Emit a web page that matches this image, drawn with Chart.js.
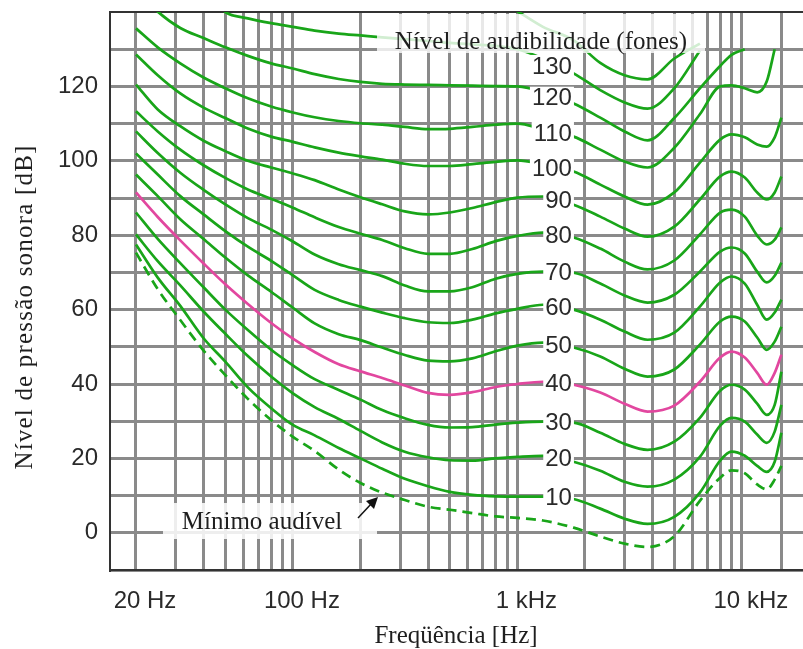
<!DOCTYPE html>
<html>
<head>
<meta charset="utf-8">
<script src="https://cdn.jsdelivr.net/npm/chart.js@4.4.1/dist/chart.umd.min.js"></script>
<style>
  html, body { margin: 0; padding: 0; background: #fff; }
  #wrap { width: 803px; height: 649px; }
</style>
</head>
<body>
<div id="wrap"><canvas id="chart" width="803" height="649"></canvas></div>
<script>
// frequências (Hz) usadas por todas as curvas
const freqs = [20, 25, 31.5, 40, 50, 63, 80, 100, 125, 160, 200, 250, 315, 400, 500, 630, 800, 1000, 1300,
               1780, 2340, 3000, 3800, 5000, 6500, 8000, 9000, 10300, 11700, 12900, 14000, 15000];

// linhas verticais da grade e rótulos do eixo x
const gridFreqs = [20, 30, 40, 50, 60, 70, 80, 90, 100, 200, 300, 400, 500, 600, 700, 800, 900,
                   1000, 2000, 3000, 4000, 5000, 6000, 7000, 8000, 9000, 10000, 15000];
const xTickLabels = { 20: '20 Hz', 100: '100 Hz', 1000: '1 kHz', 10000: '10 kHz' };
const yTickLabels = [0, 20, 40, 60, 80, 100, 120];

// níveis de audibilidade (fones)
const phonLevels = [10, 20, 30, 40, 50, 60, 70, 80, 90, 100, 110, 120, 130];

// nível de pressão sonora (dB)
const limiar  = [75.3, 65.5, 57.2, 49.0, 42.4, 36.0, 30.3, 25.8, 22.0, 17.0, 13.4, 10.8, 8.8, 7.0, 6.2, 5.3, 4.4, 4.0, 3.3,
                 1.4, -1.0, -2.9, -3.8, -0.9, 8.6, 14.8, 16.8, 16.0, 13.0, 11.7, 14.3, 18.0];
const fone10  = [77.5, 68.6, 61.0, 52.3, 46.0, 39.1, 33.5, 29.0, 26.2, 22.8, 20.0, 17.2, 14.5, 12.5, 11.0, 10.2, 9.8, 9.7, 9.7,
                 9.1, 6.5, 3.8, 2.4, 4.3, 10.8, 19.4, 21.8, 20.7, 18.0, 16.4, 19.1, 26.9];
const fone20  = [80.2, 73.0, 66.5, 59.5, 53.5, 47.5, 42.0, 37.5, 33.8, 30.6, 27.4, 24.3, 21.8, 20.3, 19.5, 19.4, 20.0, 20.4, 20.7,
                 19.1, 16.7, 13.7, 12.4, 14.3, 20.4, 28.8, 30.9, 29.9, 26.4, 24.2, 27.2, 34.4];
const fone30  = [86.1, 79.0, 72.5, 66.0, 60.0, 54.5, 49.2, 45.0, 41.3, 38.4, 35.8, 33.0, 30.8, 29.0, 28.3, 28.4, 29.1, 29.6, 29.9,
                 29.6, 26.9, 23.9, 22.3, 24.5, 30.9, 38.2, 39.8, 38.5, 34.7, 31.7, 34.4, 43.3];
const fone40  = [91.5, 84.9, 78.6, 72.4, 66.8, 61.5, 56.4, 52.2, 48.6, 45.3, 43.4, 41.6, 39.6, 37.6, 37.1, 37.8, 39.2, 40.0, 40.6,
                 39.8, 37.7, 34.7, 32.6, 34.2, 40.6, 47.1, 48.7, 47.1, 43.0, 39.8, 43.0, 47.9];
const fone50  = [96.3, 90.5, 84.3, 79.0, 74.0, 69.2, 64.8, 60.5, 56.3, 53.4, 51.8, 49.8, 47.8, 46.3, 46.1, 46.9, 48.8, 50.3, 51.1,
                 49.8, 47.4, 44.1, 42.0, 43.9, 50.6, 56.8, 58.1, 56.8, 52.5, 49.2, 51.4, 55.4];
const fone60  = [102.0, 96.3, 90.5, 85.6, 81.1, 76.9, 73.1, 69.2, 65.3, 62.6, 60.8, 59.2, 57.7, 56.6, 56.4, 57.3, 59.0, 60.2, 61.3,
                 60.0, 57.3, 54.1, 51.9, 53.8, 60.8, 67.3, 68.9, 67.0, 61.3, 57.3, 59.2, 62.7];
const fone70  = [107.9, 102.1, 96.8, 92.2, 88.3, 84.6, 81.5, 78.3, 74.8, 72.2, 70.6, 69.0, 66.5, 64.9, 64.9, 66.0, 68.3, 69.6, 70.2,
                 69.9, 67.0, 63.8, 61.9, 64.0, 70.2, 75.6, 76.7, 75.1, 70.2, 67.3, 69.1, 72.6];
const fone80  = [113.3, 107.9, 103.0, 98.8, 95.4, 92.3, 89.8, 87.4, 84.8, 82.2, 80.4, 78.7, 76.5, 75.0, 75.0, 76.3, 78.4, 79.8, 80.7,
                 79.4, 76.4, 72.9, 70.8, 73.2, 80.2, 86.1, 86.9, 85.0, 79.9, 77.5, 78.8, 82.1];
const fone90  = [120.5, 113.8, 109.3, 105.4, 102.6, 100.0, 98.2, 96.6, 94.8, 92.3, 90.2, 88.3, 86.4, 85.6, 86.1, 87.3, 88.9, 90.1, 90.4,
                 88.2, 85.0, 81.8, 79.6, 82.3, 89.6, 95.8, 97.1, 95.5, 91.5, 89.6, 91.5, 95.8];
const fone100 = [128.6, 123.0, 118.1, 114.3, 111.5, 108.7, 106.5, 105.1, 103.6, 102.2, 101.2, 100.3, 99.2, 98.6, 98.6, 99.1, 99.7, 100.1, 99.0,
                 97.1, 93.6, 90.4, 88.2, 91.5, 99.5, 105.7, 107.1, 106.3, 104.4, 103.8, 106.3, 111.6];
const fone110 = [135.6, 130.5, 126.2, 122.4, 119.5, 116.8, 114.6, 113.0, 111.7, 110.7, 110.1, 109.7, 109.1, 108.5, 108.6, 109.1, 109.7, 110.0, 108.5,
                 106.5, 103.0, 99.8, 98.2, 103.5, 112.5, 120.0, 120.3, 119.5, 118.4, 121.3, 130.0, null];
const fone120 = [146.0, 140.1, 135.7, 133.0, 130.5, 128.2, 126.2, 124.8, 123.3, 122.0, 121.2, 120.7, 120.5, 120.4, 120.3, 120.2, 120.1, 120.0, 118.5,
                 115.4, 111.6, 107.9, 105.5, 111.5, 119.5, 125.5, 128.5, 130.0, null, null, null, null];
const fone130 = [null, null, null, 146.0, 140.0, 138.3, 137.0, 136.0, 135.0, 134.2, 133.7, 133.2, 132.7, 132.2, 131.7, 131.3, 130.9, 130.0, 127.5,
                 123.5, 119.0, 115.7, 114.0, 119.5, 129.6, null, null, null, null, null, null, null];
const fone140 = [null, null, null, null, null, null, null, null, null, null, null, null, null, null, null, null, 143.5, 140.2, 136.0,
                 132.4, 126.3, 123.0, 121.9, 127.5, 131.5, null, null, null, null, null, null, null];

const curvas = [fone10, fone20, fone30, fone40, fone50, fone60, fone70, fone80, fone90, fone100, fone110, fone120, fone130];

const verde = '#19a519';
const magenta = '#e2479f';
const sans = '"Liberation Sans", Arial, sans-serif';
const serif = '"Liberation Serif", "Times New Roman", serif';

function toXY(arr) {
  return freqs.map((f, i) => ({ x: f, y: arr[i] }));
}

const datasets = [
  { label: 'Mínimo audível', data: toXY(limiar), borderColor: verde, borderDash: [10, 6] }
];
phonLevels.forEach((p, i) => {
  datasets.push({ label: p + ' fones', data: toXY(curvas[i]), borderColor: p === 40 ? magenta : verde });
});
datasets.push({ label: '140 fones', data: toXY(fone140), borderColor: verde });
datasets.forEach(d => {
  d.borderWidth = 2.7;
  d.pointRadius = 0;
  d.fill = false;
  d.cubicInterpolationMode = 'monotone';
});

// textos, caixas e seta por cima das curvas
const anotacoes = {
  id: 'anotacoes',
  afterDatasetsDraw(chart) {
    const { ctx } = chart;
    const x = chart.scales.x, y = chart.scales.y;
    ctx.save();

    // rótulos dos níveis sobre as curvas
    ctx.font = '24px ' + sans;
    ctx.textAlign = 'right';
    ctx.textBaseline = 'middle';
    const xr = x.getPixelForValue(1750);
    phonLevels.forEach((p, i) => {
      const c = curvas[i];
      const yy = y.getPixelForValue((c[18] + c[19]) / 2);
      const txt = String(p);
      const w = ctx.measureText(txt).width;
      ctx.fillStyle = '#fff';
      ctx.fillRect(xr - w - 2, yy - 11, w + 4, 22);
      ctx.fillStyle = '#2a2a2a';
      ctx.fillText(txt, xr, yy + 1);
    });

    // título das curvas
    ctx.fillStyle = 'rgba(255,255,255,0.8)';
    ctx.fillRect(377, 14, 328, 39);
    ctx.font = '25px ' + serif;
    ctx.textAlign = 'center';
    ctx.textBaseline = 'alphabetic';
    ctx.fillStyle = '#1e1e1e';
    ctx.fillText('Nível de audibilidade (fones)', 541, 49);

    // mínimo audível
    ctx.fillStyle = 'rgba(255,255,255,0.85)';
    ctx.fillRect(163, 503, 214, 36);
    ctx.fillStyle = '#1e1e1e';
    ctx.fillText('Mínimo audível', 262, 529);

    ctx.strokeStyle = '#111';
    ctx.lineWidth = 1.5;
    ctx.beginPath();
    ctx.moveTo(358, 518);
    ctx.lineTo(372, 503);
    ctx.stroke();
    ctx.beginPath();
    ctx.moveTo(378, 497);
    ctx.lineTo(366, 501);
    ctx.lineTo(374, 509);
    ctx.closePath();
    ctx.fillStyle = '#111';
    ctx.fill();
    ctx.restore();
  },
  afterDraw(chart) {
    const { ctx } = chart;
    ctx.save();
    ctx.fillStyle = '#1e1e1e';
    ctx.font = '25px ' + serif;
    ctx.textAlign = 'center';
    ctx.textBaseline = 'middle';
    ctx.fillText('Freqüência [Hz]', 456, 636);
    ctx.translate(25, 307);
    ctx.rotate(-Math.PI / 2);
    ctx.letterSpacing = '1.2px';
    ctx.fillText('Nível de pressão sonora [dB]', 0, 0);
    ctx.restore();
  }
};

new Chart(document.getElementById('chart').getContext('2d'), {
  type: 'line',
  data: { datasets },
  options: {
    responsive: false,
    animation: false,
    devicePixelRatio: 1,
    layout: { padding: { top: 12, right: 0, bottom: 0, left: 0 } },
    plugins: { legend: { display: false }, tooltip: { enabled: false } },
    scales: {
      x: {
        type: 'logarithmic',
        min: 15.32,
        max: 18720,
        afterBuildTicks: (s) => { s.ticks = gridFreqs.map(v => ({ value: v })); },
        afterFit: (s) => { s.height = 79; s.paddingLeft = 0; s.paddingRight = 0; },
        grid: { color: '#8a8a8a', lineWidth: 3, drawTicks: false },
        border: { color: '#333', width: 2 },
        ticks: {
          autoSkip: false,
          maxRotation: 0,
          minRotation: 0,
          padding: 17,
          labelOffset: 9,
          color: '#2a2a2a',
          font: { family: sans, size: 24 },
          callback: (v) => xTickLabels[v] || ''
        }
      },
      y: {
        min: -10,
        max: 140,
        afterFit: (s) => { s.width = 110; s.paddingTop = 0; s.paddingBottom = 0; },
        grid: {
          color: (c) => (c.tick && c.tick.value === 140 ? '#333' : '#8a8a8a'),
          lineWidth: (c) => (c.tick && c.tick.value === 140 ? 2 : 3),
          drawTicks: false
        },
        border: { color: '#333', width: 2 },
        ticks: {
          stepSize: 10,
          padding: 12,
          color: '#2a2a2a',
          font: { family: sans, size: 24 },
          callback: (v) => (yTickLabels.includes(v) ? String(v) : '')
        }
      }
    }
  },
  plugins: [anotacoes]
});
</script>
</body>
</html>
